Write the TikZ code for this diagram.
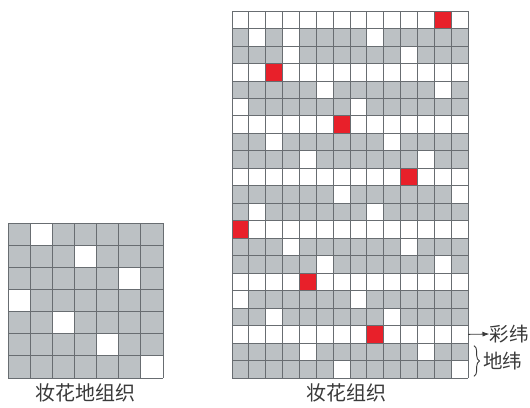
\documentclass[tikz,border=0pt]{standalone}
\usepackage{fontspec}
\newfontfamily\cjk{Noto Sans CJK SC}
\usetikzlibrary{arrows.meta,positioning,decorations.pathreplacing}
\definecolor{ground}{HTML}{BCC1C4}
\definecolor{gridln}{HTML}{686D71}
\definecolor{weftred}{HTML}{E8202A}
\definecolor{ink}{HTML}{3A3A3A}

\tikzset{
  gridline/.style={draw=gridln, line width=0.8pt},
  caption/.style={font=\cjk\fontsize{20}{20}\selectfont, text=ink, inner sep=0pt},
  sidelabel/.style={font=\cjk\fontsize{19.5}{19.5}\selectfont, text=ink, inner sep=0pt, anchor=west},
}

\begin{document}
\begin{tikzpicture}[x=1pt, y=-1pt]
  \useasboundingbox (0,0) rectangle (530,407);

  % ground weave, 7x7 satin
  \begin{scope}[shift={(8,223)}, x=22.14pt, y=-22.14pt]
    \fill[ground] (0,0) rectangle (7,7);
    \foreach \r in {0,...,6} {
      \pgfmathtruncatemacro{\c}{mod(2*\r+1,7)}
      \fill[white] (\c,\r) rectangle ++(1,1);
    }
    \foreach \i in {0,...,7} {
      \draw[gridline] (\i,0) -- (\i,7);
      \draw[gridline] (0,\i) -- (7,\i);
    }
  \end{scope}

  % brocade weave: one colour weft, two ground wefts
  \begin{scope}[shift={(232,11)}, x=16.86pt, y=-17.48pt]
    \fill[white] (0,0) rectangle (14,21);
    \foreach \k in {0,...,6} {
      \pgfmathtruncatemacro{\rr}{3*\k}
      \pgfmathtruncatemacro{\cr}{mod(12+4*\k,14)}
      \pgfmathtruncatemacro{\ca}{mod(4*\k+1,7)}
      \pgfmathtruncatemacro{\cb}{mod(4*\k+3,7)}
      \fill[weftred] (\cr,\rr) rectangle ++(1,1);
      \fill[ground] (0,\rr+1) rectangle (14,\rr+3);
      \fill[white] (\ca,\rr+1) rectangle ++(1,1);
      \fill[white] (\ca+7,\rr+1) rectangle ++(1,1);
      \fill[white] (\cb,\rr+2) rectangle ++(1,1);
      \fill[white] (\cb+7,\rr+2) rectangle ++(1,1);
    }
    \fill[white] (3,1) rectangle ++(1,1);
    \foreach \i in {0,...,14} \draw[gridline] (\i,0) -- (\i,21);
    \foreach \i in {0,...,21} \draw[gridline] (0,\i) -- (14,\i);
    \coordinate (weftend) at (14,18.5);
    \coordinate (bracetop) at (14.35,19.15);
    \coordinate (bracebot) at (14.35,20.9);
  \end{scope}

  % labels
  \node[caption] (groundcap) at (85.5,393) {妆花地组织};
  \node[caption] (brocadecap) at (346,393) {妆花组织};
  \node[sidelabel] (colorweft) at (489.5,334) {彩纬};
  \node[sidelabel] (groundweft) at (483,361) {地纬};

  \draw[ink, line width=0.8pt, -{Latex[length=7pt,width=5pt]}] (weftend) -- (colorweft.west);
  \draw[ink, line width=0.9pt, decorate, decoration={brace, amplitude=5.5pt}] (bracetop) -- (bracebot);
\end{tikzpicture}
\end{document}
